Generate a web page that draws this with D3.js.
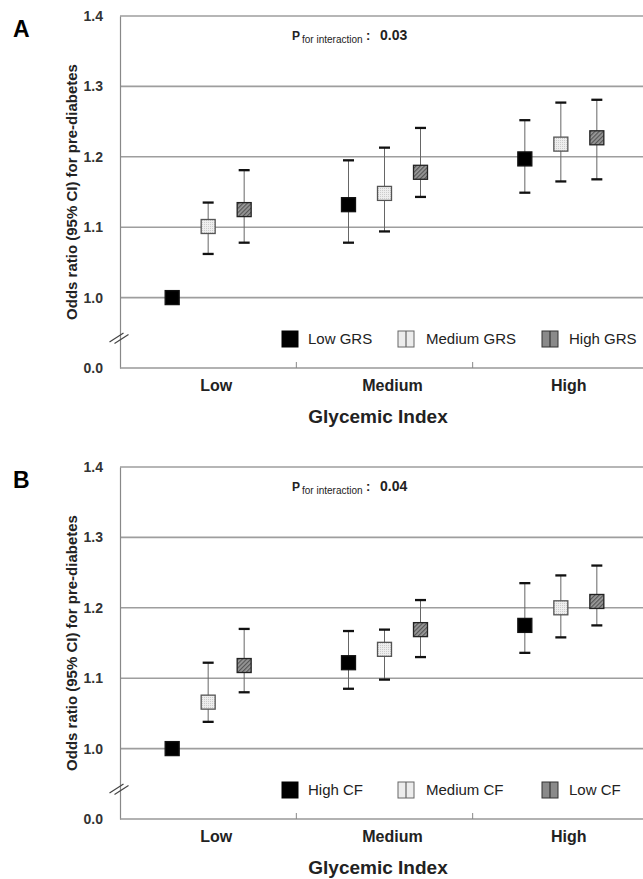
<script src="https://cdnjs.cloudflare.com/ajax/libs/d3/7.8.5/d3.min.js"></script>
<body style="margin:0;background:#fff">
<style>
  body { font-family: "Liberation Sans", Arial, sans-serif; }
  .tick text { font-weight: bold; font-size: 14px; fill: #333; }
</style>
<div id="chart"></div>
<script>
// categories
var groups = ["Low", "Medium", "High"];
var yTicks = [0.9, 1.0, 1.1, 1.2, 1.3, 1.4];
var tickLabels = ["0.0", "1.0", "1.1", "1.2", "1.3", "1.4"];

// panel A: genetic risk score
var seriesA = ["Low GRS", "Medium GRS", "High GRS"];
var estA = [[1.000, 1.132, 1.197], [1.101, 1.148, 1.218], [1.125, 1.178, 1.227]];
var lowerA = [[null, 1.078, 1.149], [1.062, 1.094, 1.165], [1.078, 1.143, 1.168]];
var upperA = [[null, 1.195, 1.252], [1.135, 1.213, 1.277], [1.181, 1.241, 1.281]];
var pA = "0.03";

// panel B: carbohydrate factor
var seriesB = ["High CF", "Medium CF", "Low CF"];
var estB = [[1.000, 1.122, 1.175], [1.066, 1.141, 1.200], [1.118, 1.169, 1.209]];
var lowerB = [[null, 1.085, 1.136], [1.038, 1.098, 1.158], [1.080, 1.130, 1.175]];
var upperB = [[null, 1.167, 1.235], [1.122, 1.169, 1.246], [1.170, 1.211, 1.260]];
var pB = "0.04";

var W = 643, H = 879;
var plotL = 120, plotR = 649, plotT = 16, plotB = 368;

var svg = d3.select("#chart").append("svg")
  .attr("width", W).attr("height", H);

// fill patterns
var defs = svg.append("defs");
var dots = defs.append("pattern").attr("id", "dots")
  .attr("width", 2).attr("height", 2).attr("patternUnits", "userSpaceOnUse");
dots.append("rect").attr("width", 2).attr("height", 2).attr("fill", "#eeeeee");
dots.append("rect").attr("width", 1).attr("height", 1).attr("fill", "#cccccc");
var hatch = defs.append("pattern").attr("id", "hatch")
  .attr("width", 3).attr("height", 3).attr("patternUnits", "userSpaceOnUse")
  .attr("patternTransform", "rotate(45)");
hatch.append("rect").attr("width", 3).attr("height", 3).attr("fill", "#999");
hatch.append("rect").attr("width", 1.2).attr("height", 3).attr("fill", "#555");

var x = d3.scaleBand().domain(groups).range([plotL, plotR]);
var y = d3.scaleLinear().domain([0.9, 1.4]).range([plotB, plotT]);

var markerFill = ["#000", "url(#dots)", "url(#hatch)"];
var markerStroke = ["#111", "#555", "#222"];
var legendFill = ["#000", "#ececec", "#8a8a8a"];
var legendStroke = ["#000", "#666", "#333"];
var legendIconX = [282, 398, 542];
var legendTextX = [308, 426, 569];

function drawPanel(offsetY, letter, series, est, lower, upper, pval) {
  var g = svg.append("g").attr("transform", "translate(0," + offsetY + ")");
  var xs = d3.scalePoint().domain(series).range([-36, 36]);

  g.append("text")
    .attr("x", 13).attr("y", 37)
    .style("font-size", "23px").style("font-weight", "bold")
    .text(letter);

  // grid
  g.selectAll(".grid").data(yTicks.slice(1)).enter().append("line")
    .attr("x1", plotL).attr("x2", plotR)
    .attr("y1", function(d) { return y(d); })
    .attr("y2", function(d) { return y(d); })
    .attr("stroke", "#9e9e9e").attr("stroke-width", 1.6);

  // y axis
  var yAxis = g.append("g").attr("transform", "translate(" + plotL + ",0)")
    .call(d3.axisLeft(y).tickValues(yTicks).tickSize(0).tickPadding(17)
      .tickFormat(function(d, i) { return tickLabels[i]; }));
  yAxis.select(".domain").attr("stroke", "#888").attr("stroke-width", 1.2);

  // x axis
  var xAxis = g.append("g").attr("transform", "translate(0," + plotB + ")");
  xAxis.append("line").attr("x1", plotL).attr("x2", plotR)
    .attr("stroke", "#999").attr("stroke-width", 1.4);
  xAxis.selectAll(".xt").data(groups.slice(1)).enter().append("line")
    .attr("x1", function(d) { return x(d); }).attr("x2", function(d) { return x(d); })
    .attr("y1", 0).attr("y2", -6).attr("stroke", "#888");
  xAxis.selectAll(".xl").data(groups).enter().append("text")
    .attr("x", function(d) { return x(d) + x.bandwidth() / 2 + 8; })
    .attr("y", 23)
    .attr("text-anchor", "middle")
    .style("font-size", "16px").style("font-weight", "bold").style("fill", "#222")
    .text(function(d) { return d; });

  // axis break
  var by = y(0.9) + (y(1.0) - y(0.9)) * 0.43;
  [-2.5, 2.5].forEach(function(o) {
    g.append("line")
      .attr("x1", plotL - 8 + o).attr("y1", by + 5 + o * 0.3)
      .attr("x2", plotL + 6 + o).attr("y2", by - 4 + o * 0.3)
      .attr("stroke", "#444").attr("stroke-width", 1.2);
  });

  // axis titles
  g.append("text")
    .attr("transform", "translate(77,192) rotate(-90)")
    .attr("text-anchor", "middle")
    .style("font-size", "15px").style("font-weight", "bold").style("fill", "#222")
    .text("Odds ratio (95% CI) for pre-diabetes");
  g.append("text")
    .attr("x", 378).attr("y", 423)
    .attr("text-anchor", "middle")
    .style("font-size", "19px").style("font-weight", "bold").style("fill", "#222")
    .text("Glycemic Index");

  // p value
  var pt = g.append("text").attr("y", 40).style("fill", "#222");
  pt.append("tspan").attr("x", 292).style("font-size", "12px").style("font-weight", "bold").text("P");
  pt.append("tspan").attr("x", 302).attr("dy", 3).style("font-size", "10px").text("for interaction");
  pt.append("tspan").attr("x", 366).attr("dy", -3).style("font-size", "13px").style("font-weight", "bold").text(":");
  pt.append("tspan").attr("x", 380).style("font-size", "14px").style("font-weight", "bold").text(pval);

  // points
  var pts = [];
  series.forEach(function(s, si) {
    groups.forEach(function(gr, gi) {
      pts.push({ s: s, si: si, g: gr, est: est[si][gi], lo: lower[si][gi], hi: upper[si][gi] });
    });
  });
  var cx = function(d) { return x(d.g) + x.bandwidth() / 2 + xs(d.s); };
  var withCI = pts.filter(function(d) { return d.lo != null; });

  g.selectAll(".whisker").data(withCI).enter().append("line")
    .attr("x1", cx).attr("x2", cx)
    .attr("y1", function(d) { return y(d.lo); })
    .attr("y2", function(d) { return y(d.hi); })
    .attr("stroke", "#666").attr("stroke-width", 1);
  ["lo", "hi"].forEach(function(k) {
    g.selectAll(".cap" + k).data(withCI).enter().append("line")
      .attr("x1", function(d) { return cx(d) - 5.5; })
      .attr("x2", function(d) { return cx(d) + 5.5; })
      .attr("y1", function(d) { return y(d[k]); })
      .attr("y2", function(d) { return y(d[k]); })
      .attr("stroke", "#111").attr("stroke-width", 2.3);
  });
  g.selectAll(".pt").data(pts).enter().append("rect")
    .attr("x", function(d) { return cx(d) - 7; })
    .attr("y", function(d) { return y(d.est) - 7; })
    .attr("width", 14).attr("height", 14)
    .attr("fill", function(d) { return markerFill[d.si]; })
    .attr("stroke", function(d) { return markerStroke[d.si]; })
    .attr("stroke-width", 1.3);

  // legend
  var lg = g.append("g");
  series.forEach(function(s, i) {
    var ix = legendIconX[i], iy = 331;
    lg.append("rect").attr("x", ix).attr("y", iy).attr("width", 16).attr("height", 16)
      .attr("fill", legendFill[i]).attr("stroke", legendStroke[i]).attr("stroke-width", 1);
    if (i > 0) {
      lg.append("line").attr("x1", ix + 8).attr("x2", ix + 8).attr("y1", iy).attr("y2", iy + 16)
        .attr("stroke", legendStroke[i]).attr("stroke-width", 1.2);
    }
    lg.append("text").attr("x", legendTextX[i]).attr("y", 344)
      .style("font-size", "15px").style("fill", "#222")
      .text(s);
  });
}

drawPanel(0, "A", seriesA, estA, lowerA, upperA, pA);
drawPanel(451, "B", seriesB, estB, lowerB, upperB, pB);
</script>
</body>
